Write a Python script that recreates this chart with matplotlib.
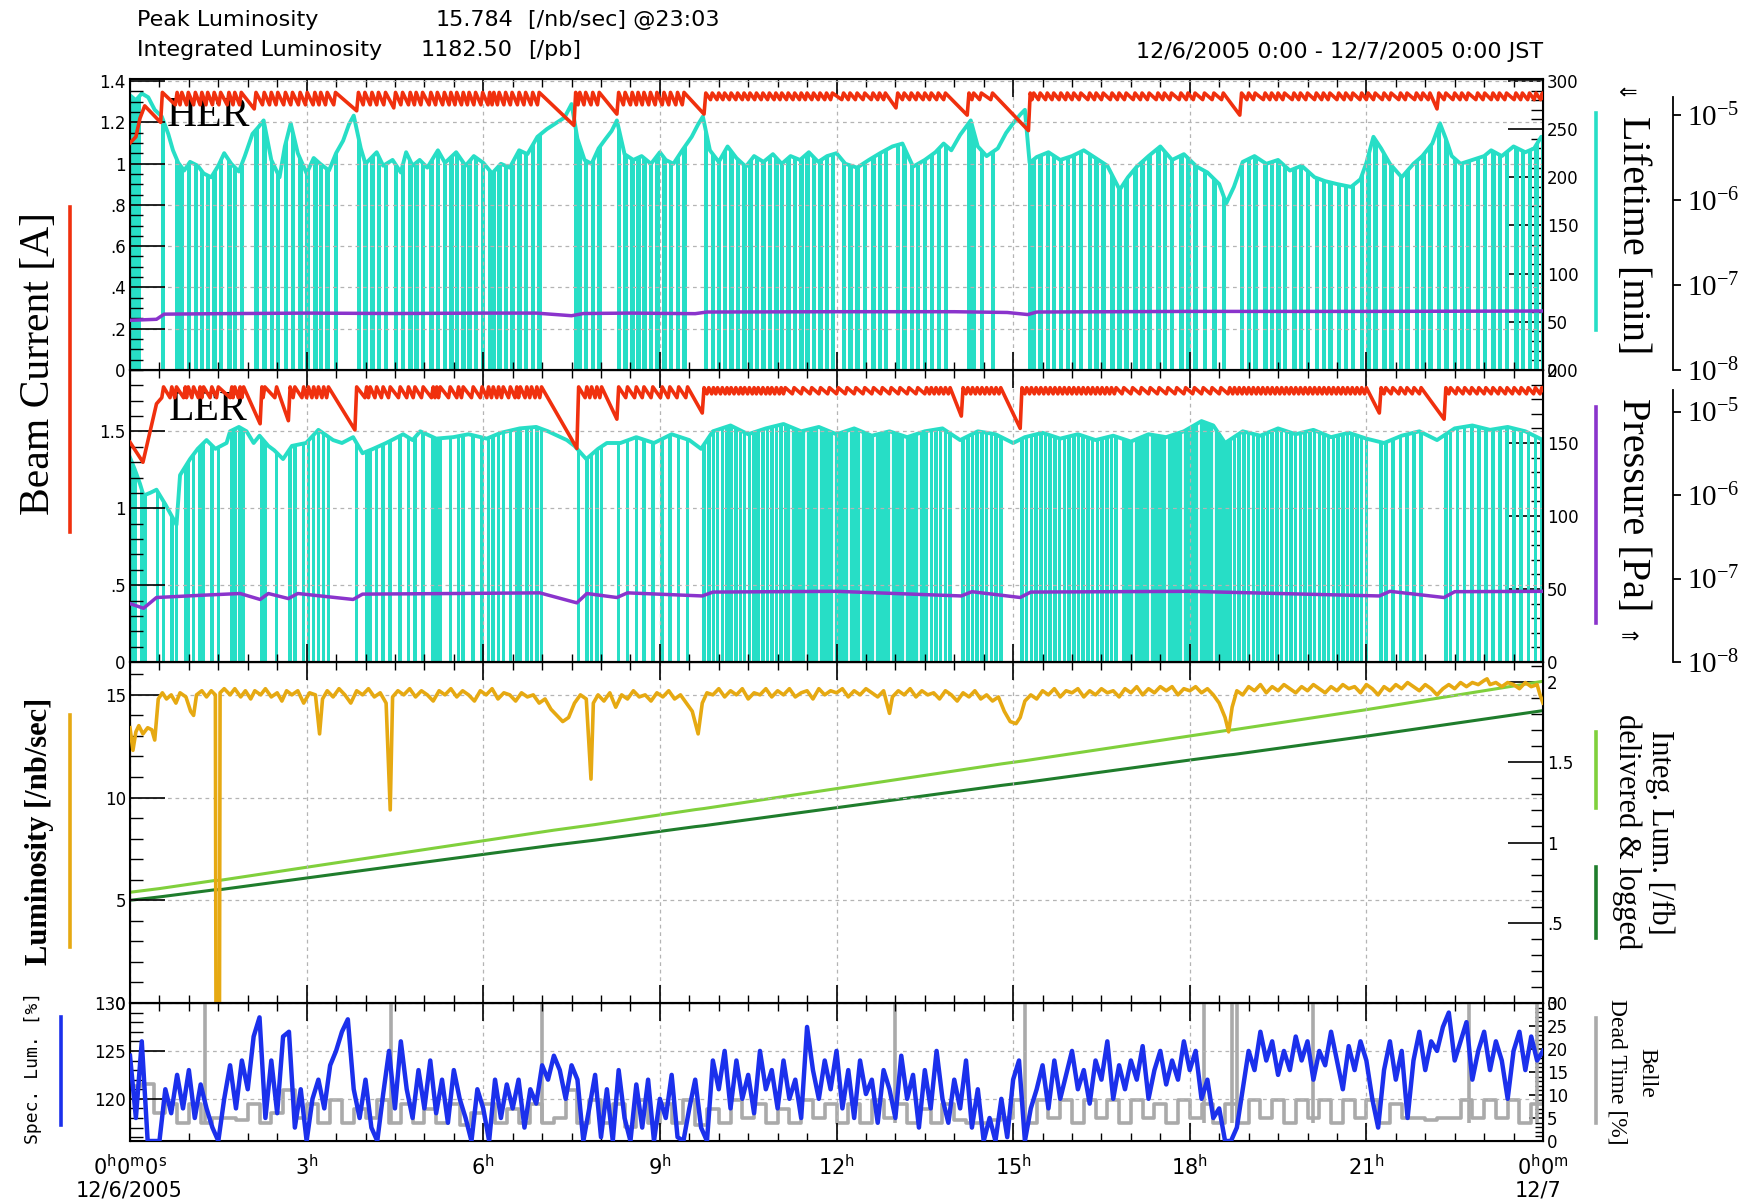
import numpy as np
import matplotlib
matplotlib.use("Agg")
import matplotlib.pyplot as plt
from matplotlib.lines import Line2D
from matplotlib.path import Path
from matplotlib.ticker import MultipleLocator, FixedLocator, FuncFormatter, NullLocator

plt.rcParams['font.family'] = ['DejaVu Sans']
SERIF = ['Liberation Serif', 'DejaVu Serif']

# ======================= DATA =======================
hour_ticks = [0, 3, 6, 9, 12, 15, 18, 21, 24]
hour_labels = [r'$\mathdefault{0^{h}0^{m}0^{s}}$', r'$\mathdefault{3^{h}}$', r'$\mathdefault{6^{h}}$',
               r'$\mathdefault{9^{h}}$', r'$\mathdefault{12^{h}}$', r'$\mathdefault{15^{h}}$',
               r'$\mathdefault{18^{h}}$', r'$\mathdefault{21^{h}}$', r'$\mathdefault{0^{h}0^{m}}$']

# ---- HER ----
her_inj = [0.52, 0.77, 0.85, 0.96, 1.08, 1.19, 1.29, 1.40, 1.51, 1.65, 1.75, 1.86, 2.11, 2.25, 2.37, 2.48, 2.61, 2.73, 2.86, 2.98,
           3.11, 3.21, 3.32, 3.46, 3.85, 3.96, 4.08, 4.19, 4.31, 4.48, 4.60, 4.73, 4.83, 4.94, 5.08, 5.19, 5.31, 5.42, 5.52, 5.63,
           5.73, 5.84, 5.96, 6.08, 6.15, 6.24, 6.35, 6.46, 6.58, 6.69, 6.81, 6.92, 7.54, 7.61, 7.71, 7.83, 7.94, 8.27, 8.38, 8.50,
           8.60, 8.70, 8.81, 8.92, 9.04, 9.15, 9.27, 9.38, 9.75, 9.86, 9.97, 10.07, 10.18, 10.29, 10.40, 10.50, 10.61, 10.72, 10.83, 10.94,
           11.04, 11.15, 11.26, 11.37, 11.47, 11.58, 11.69, 11.80, 11.90, 12.09, 12.20, 12.32, 12.45, 12.59, 12.70, 12.80, 13.01, 13.12, 13.24, 13.35,
           13.47, 13.58, 13.70, 13.82, 14.22, 14.30, 14.43, 14.62, 15.26, 15.32, 15.43, 15.55, 15.66, 15.78, 15.89, 16.00, 16.12, 16.27, 16.38, 16.50,
           16.65, 16.77, 16.89, 17.04, 17.16, 17.28, 17.43, 17.54, 17.66, 17.82, 17.94, 18.06, 18.22, 18.38, 18.54, 18.85, 18.97, 19.08, 19.25, 19.36,
           19.47, 19.58, 19.74, 19.85, 19.97, 20.12, 20.24, 20.35, 20.50, 20.62, 20.74, 20.89, 21.00, 21.12, 21.27, 21.39, 21.55, 21.66, 21.82, 21.93,
           22.05, 22.20, 22.32, 22.47, 22.59, 22.70, 22.86, 22.98, 23.12, 23.23, 23.35, 23.51, 23.62, 23.74, 23.85, 23.96]
her_solid_a = [0.0]
her_solid_b = [0.19]
her_env_t = [0.00, 0.10, 0.20, 0.31, 0.42, 0.54, 0.65, 0.73, 0.82, 0.92,
             1.02, 1.15, 1.25, 1.38, 1.50, 1.60, 1.72, 1.85, 1.95, 2.08,
             2.18, 2.27, 2.40, 2.54, 2.63, 2.73, 2.85, 3.00, 3.12, 3.23,
             3.38, 3.50, 3.62, 3.72, 3.80, 3.92, 4.00, 4.19, 4.30, 4.46,
             4.60, 4.69, 4.80, 4.92, 5.05, 5.23, 5.35, 5.54, 5.70, 5.84,
             6.00, 6.15, 6.30, 6.45, 6.61, 6.75, 6.92, 7.08, 7.23, 7.38,
             7.50, 7.60, 7.72, 7.84, 7.96, 8.08, 8.18, 8.27, 8.40, 8.55,
             8.69, 8.85, 9.00, 9.10, 9.23, 9.38, 9.54, 9.65, 9.73, 9.85,
             10.00, 10.15, 10.30, 10.46, 10.60, 10.76, 10.92, 11.07, 11.22, 11.38,
             11.53, 11.69, 11.84, 12.00, 12.15, 12.35, 12.55, 12.74, 12.95, 13.12,
             13.30, 13.50, 13.68, 13.82, 13.95, 14.10, 14.28, 14.40, 14.55, 14.74,
             14.88, 15.00, 15.12, 15.20, 15.28, 15.40, 15.60, 15.80, 16.00, 16.20,
             16.40, 16.60, 16.81, 16.95, 17.10, 17.30, 17.50, 17.70, 17.90, 18.12,
             18.30, 18.50, 18.62, 18.75, 18.90, 19.10, 19.30, 19.50, 19.70, 19.90,
             20.12, 20.30, 20.50, 20.74, 20.90, 21.00, 21.12, 21.25, 21.40, 21.60,
             21.80, 21.95, 22.12, 22.25, 22.35, 22.45, 22.60, 22.80, 23.00, 23.12,
             23.30, 23.50, 23.70, 23.85, 23.97, 24.00]
her_env_v = [285, 280, 287, 283, 270, 263, 245, 228, 215, 207,
             216, 212, 204, 200, 212, 225, 214, 206, 222, 245,
             252, 259, 218, 200, 232, 256, 225, 204, 220, 214,
             207, 225, 238, 255, 264, 230, 214, 226, 212, 218,
             205, 226, 212, 218, 210, 228, 215, 226, 212, 222,
             215, 204, 214, 210, 228, 224, 242, 250, 256, 262,
             276, 240, 218, 214, 230, 240, 248, 259, 224, 218,
             222, 214, 226, 218, 214, 228, 242, 255, 263, 228,
             216, 232, 220, 211, 222, 216, 224, 214, 222, 218,
             226, 216, 222, 225, 214, 210, 218, 225, 232, 235,
             211, 218, 226, 235, 228, 244, 259, 232, 222, 230,
             246, 256, 265, 270, 215, 221, 226, 218, 222, 228,
             220, 212, 187, 200, 211, 222, 232, 218, 224, 211,
             205, 193, 173, 190, 216, 222, 214, 218, 207, 212,
             200, 196, 193, 190, 198, 215, 242, 230, 214, 200,
             214, 222, 235, 256, 240, 222, 214, 218, 222, 228,
             222, 232, 226, 230, 242, 238]
her_start_t = [0.0, 0.10, 0.17, 0.25]
her_start_v = [1.10, 1.13, 1.22, 1.28]
her_seg_end = [9.7, 24.01]
her_seg_hi = [1.345, 1.342]
her_seg_lo = [1.285, 1.31]
her_dip_t = [0.52, 2.11, 3.85, 4.48, 7.54, 8.27, 9.75, 13.01, 14.22, 15.26, 18.85, 22.20]
her_dip_v = [1.20, 1.265, 1.256, 1.27, 1.185, 1.24, 1.24, 1.27, 1.235, 1.16, 1.235, 1.265]
her_end_v = 1.32
her_p_t = [0, 0.45, 0.58, 1.5, 3, 4.5, 6, 6.9, 7.5, 7.7, 8.5, 9.6, 9.8, 12, 14, 14.9, 15.25, 15.4, 18, 21, 24]
her_p = [3.84e-8, 3.95e-8, 4.54e-8, 4.60e-8, 4.67e-8, 4.62e-8, 4.67e-8, 4.67e-8, 4.35e-8, 4.62e-8, 4.67e-8,
         4.60e-8, 4.81e-8, 4.85e-8, 4.85e-8, 4.75e-8, 4.49e-8, 4.81e-8, 4.89e-8, 4.89e-8, 4.94e-8]

# ---- LER ----
ler_inj = [0.17, 0.23, 0.44, 0.54, 0.68, 0.76, 0.91, 0.96, 1.05, 1.16, 1.22, 1.36, 1.47, 1.70, 1.75, 1.84, 1.90, 2.21, 2.26, 2.46,
           2.69, 2.77, 2.92, 3.00, 3.09, 3.17, 3.26, 3.34, 3.82, 3.99, 4.05, 4.16, 4.27, 4.39, 4.56, 4.70, 4.81, 4.95, 5.12, 5.18,
           5.24, 5.41, 5.55, 5.63, 5.80, 5.95, 6.06, 6.14, 6.23, 6.31, 6.43, 6.54, 6.60, 6.71, 6.79, 6.88, 6.96, 7.59, 7.73, 7.81,
           7.90, 7.98, 8.27, 8.42, 8.57, 8.70, 8.85, 9.01, 9.14, 9.29, 9.44,
           9.72, 9.80, 9.88, 9.95, 10.03, 10.11, 10.18, 10.26, 10.34, 10.41, 10.49, 10.57, 10.64, 10.72, 10.80, 10.87, 10.95, 11.03,
           11.10, 11.25, 11.40, 11.55, 11.70, 11.85, 12.00, 12.15, 12.30, 12.45, 12.60, 12.75, 12.90, 13.05, 13.20, 13.35, 13.50,
           13.58, 13.66, 13.74, 13.82, 13.90, 14.12, 14.20, 14.28, 14.36, 14.44, 14.52, 14.60, 14.68, 14.76,
           15.12, 15.20, 15.28, 15.36, 15.44, 15.52, 15.60, 15.68, 15.76, 15.84, 15.92, 16.00, 16.08, 16.16, 16.24, 16.32, 16.40,
           16.48, 16.56, 16.64, 16.72, 16.85, 17.00, 17.15, 17.30, 17.45, 17.60, 17.75, 17.90, 18.05, 18.20, 18.35, 18.50, 18.65,
           18.73, 18.81, 18.89, 18.97, 19.05, 19.13, 19.21, 19.29, 19.37, 19.45, 19.53, 19.61, 19.69, 19.77, 19.85, 19.93, 20.01,
           20.09, 20.17, 20.25, 20.33, 20.41, 20.49, 20.57, 20.65, 20.73, 20.81, 20.89, 20.97, 21.22, 21.30, 21.42, 21.55, 21.66,
           21.78, 21.90, 22.32, 22.40, 22.52, 22.64, 22.76, 22.88, 23.00, 23.12, 23.24, 23.36, 23.48, 23.60, 23.72, 23.84, 23.95]
ler_solid_a = [0.0, 11.10, 16.90]
ler_solid_b = [0.12, 13.50, 18.65]
ler_gap = [11.22, 11.48, 11.71, 11.95, 12.22, 12.41, 12.66, 12.93, 13.17, 13.40,
           17.05, 17.33, 17.62, 17.88, 18.16, 18.42]
ler_env_t = [0.00, 0.08, 0.17, 0.23, 0.35, 0.45, 0.60, 0.79, 0.85, 1.02,
             1.15, 1.30, 1.45, 1.64, 1.70, 1.85, 1.98, 2.10, 2.20, 2.35,
             2.45, 2.60, 2.75, 2.99, 3.20, 3.45, 3.60, 3.79, 3.95, 4.13,
             4.35, 4.64, 4.80, 4.93, 5.20, 5.49, 5.75, 6.06, 6.30, 6.62,
             6.90, 7.10, 7.42, 7.55, 7.75, 7.95, 8.10, 8.33, 8.60, 8.90,
             9.20, 9.50, 9.70, 9.90, 10.20, 10.50, 10.80, 11.10, 11.40, 11.70,
             12.00, 12.30, 12.60, 12.90, 13.20, 13.50, 13.80, 14.10, 14.40, 14.70,
             15.00, 15.20, 15.50, 15.80, 16.10, 16.40, 16.70, 17.00, 17.30, 17.60,
             17.90, 18.20, 18.40, 18.60, 18.90, 19.20, 19.50, 19.80, 20.10, 20.40,
             20.70, 21.00, 21.30, 21.60, 21.90, 22.20, 22.50, 22.80, 23.10, 23.40,
             23.70, 24.00]
ler_env_v = [140, 132, 122, 114, 116, 118, 108, 94, 128, 139,
             146, 152, 146, 150, 158, 161, 158, 150, 155, 148,
             145, 139, 148, 150, 159, 152, 150, 154, 143, 146,
             150, 156, 152, 158, 153, 154, 156, 153, 157, 160,
             161, 158, 152, 148, 139, 146, 150, 150, 154, 150,
             156, 152, 146, 158, 162, 156, 160, 163, 158, 161,
             156, 160, 155, 158, 154, 158, 160, 152, 158, 156,
             150, 154, 157, 153, 156, 152, 155, 151, 156, 154,
             158, 165, 162, 150, 158, 155, 160, 156, 159, 154,
             157, 153, 150, 155, 158, 152, 160, 162, 159, 161,
             158, 152]
ler_start_t = [0.0, 0.22, 0.45]
ler_start_v = [1.43, 1.30, 1.68]
ler_seg_end = [9.7, 24.01]
ler_seg_hi = [1.79, 1.785]
ler_seg_lo = [1.72, 1.745]
ler_dip_t = [2.21, 2.69, 3.82, 7.59, 8.27, 9.72, 14.12, 15.12, 21.22, 22.32]
ler_dip_v = [1.55, 1.57, 1.51, 1.39, 1.58, 1.62, 1.60, 1.52, 1.62, 1.58]
ler_end_v = 1.77
ler_p_t = [0, 0.23, 0.45, 1.24, 1.87, 2.21, 2.35, 2.69, 2.85, 3.79, 3.95, 5.5, 6.96, 7.59, 7.76,
           8.27, 8.45, 9.72, 9.9, 12, 14.12, 14.3, 15.12, 15.3, 18, 21.22, 21.4, 22.32, 22.5, 24]
ler_p = [5.00e-8, 4.40e-8, 5.92e-8, 6.31e-8, 6.61e-8, 5.61e-8, 6.61e-8, 5.75e-8, 6.61e-8, 5.61e-8,
         6.50e-8, 6.61e-8, 6.73e-8, 5.11e-8, 6.61e-8, 5.92e-8, 6.73e-8, 6.18e-8, 6.88e-8, 7.02e-8,
         6.18e-8, 6.95e-8, 5.92e-8, 6.88e-8, 7.02e-8, 6.18e-8, 7.02e-8, 5.92e-8, 6.95e-8, 7.02e-8]

# ---- Luminosity [/nb/sec] ----
lum_t = [0.00, 0.05, 0.10, 0.15, 0.22, 0.30, 0.37, 0.42, 0.48, 0.55,
         0.62, 0.70, 0.78, 0.85, 0.95, 1.03, 1.08, 1.13, 1.22, 1.30,
         1.38, 1.45, 1.46, 1.52, 1.53, 1.60, 1.70, 1.78, 1.88, 1.96,
         2.05, 2.12, 2.22, 2.30, 2.40, 2.50, 2.58, 2.66, 2.75, 2.85,
         2.95, 3.05, 3.15, 3.22, 3.27, 3.35, 3.45, 3.55, 3.65, 3.75,
         3.85, 3.95, 4.05, 4.15, 4.25, 4.35, 4.42, 4.46, 4.55, 4.65,
         4.75, 4.85, 4.95, 5.05, 5.15, 5.25, 5.35, 5.45, 5.55, 5.65,
         5.75, 5.85, 5.95, 6.05, 6.15, 6.25, 6.35, 6.45, 6.55, 6.65,
         6.75, 6.85, 6.95, 7.05, 7.15, 7.25, 7.35, 7.45, 7.55, 7.65,
         7.75, 7.83, 7.87, 7.95, 8.05, 8.15, 8.25, 8.35, 8.45, 8.55,
         8.65, 8.75, 8.85, 8.95, 9.05, 9.15, 9.25, 9.35, 9.45, 9.55,
         9.65, 9.72, 9.80, 9.90, 10.0, 10.1, 10.2, 10.3, 10.4, 10.5,
         10.6, 10.7, 10.8, 10.9, 11.0, 11.1, 11.2, 11.3, 11.4, 11.5,
         11.6, 11.7, 11.8, 11.9, 12.0, 12.1, 12.2, 12.3, 12.4, 12.5,
         12.6, 12.7, 12.8, 12.9, 12.95, 13.05, 13.15, 13.25, 13.35, 13.45,
         13.55, 13.65, 13.75, 13.85, 13.95, 14.05, 14.15, 14.25, 14.35, 14.45,
         14.55, 14.65, 14.75, 14.85, 14.95, 15.05, 15.12, 15.20, 15.30, 15.40,
         15.5, 15.6, 15.7, 15.8, 15.9, 16.0, 16.1, 16.2, 16.3, 16.4,
         16.5, 16.6, 16.7, 16.8, 16.9, 17.0, 17.1, 17.2, 17.3, 17.4,
         17.5, 17.6, 17.7, 17.8, 17.9, 18.0, 18.1, 18.2, 18.3, 18.4,
         18.5, 18.6, 18.66, 18.72, 18.8, 18.9, 19.0, 19.1, 19.2, 19.3,
         19.4, 19.5, 19.6, 19.7, 19.8, 19.9, 20.0, 20.1, 20.2, 20.3,
         20.4, 20.5, 20.6, 20.7, 20.8, 20.9, 21.0, 21.1, 21.2, 21.3,
         21.4, 21.5, 21.6, 21.7, 21.8, 21.9, 22.0, 22.1, 22.2, 22.3,
         22.4, 22.5, 22.6, 22.7, 22.8, 22.9, 23.0, 23.05, 23.1, 23.2,
         23.3, 23.4, 23.5, 23.6, 23.7, 23.8, 23.9, 23.95, 24.0]
lum_v = [13.4, 12.3, 13.2, 13.5, 13.1, 13.4, 13.3, 12.8, 14.8, 15.1,
         14.8, 15.0, 14.6, 15.1, 14.9, 14.2, 14.0, 15.0, 15.2, 14.9,
         15.2, 15.0, 0.0, 0.0, 15.1, 15.3, 15.0, 15.3, 14.9, 15.2,
         14.8, 15.2, 15.0, 15.3, 14.9, 15.1, 14.7, 15.2, 15.0, 15.2,
         14.6, 15.1, 15.0, 13.1, 14.8, 15.2, 14.9, 15.3, 15.0, 14.6,
         15.2, 15.0, 15.3, 14.9, 15.1, 14.6, 9.4, 14.9, 15.2, 15.0,
         15.3, 14.9, 15.2, 15.0, 14.7, 15.2, 15.0, 15.3, 14.9, 15.2,
         15.0, 14.7, 15.2, 15.0, 15.3, 14.8, 15.1, 15.0, 14.7, 15.1,
         14.9, 15.0, 14.6, 14.8, 14.3, 14.0, 13.7, 13.9, 14.6, 15.0,
         14.8, 10.9, 14.6, 15.0, 14.7, 15.1, 14.4, 15.0, 14.8, 15.2,
         14.9, 15.0, 14.7, 15.1, 14.9, 15.2, 14.8, 15.0, 14.6, 14.2,
         13.1, 14.6, 15.1, 15.0, 15.3, 14.9, 15.2, 15.0, 15.3, 14.8,
         15.1, 15.0, 15.3, 14.9, 15.2, 15.0, 15.3, 14.9, 15.1, 15.2,
         14.8, 15.3, 15.0, 15.2, 15.1, 15.3, 14.9, 15.2, 15.0, 15.3,
         15.1, 14.9, 15.2, 14.1, 14.9, 15.2, 15.0, 15.3, 14.9, 15.2,
         15.0, 15.1, 14.8, 15.2, 15.0, 14.7, 15.1, 14.9, 15.2, 14.8,
         15.0, 14.7, 14.9, 14.2, 13.7, 13.6, 13.9, 14.7, 15.0, 14.8,
         15.2, 15.0, 15.3, 14.9, 15.2, 15.1, 15.3, 14.9, 15.2, 15.0,
         15.3, 15.1, 15.2, 14.9, 15.3, 15.1, 15.4, 15.0, 15.3, 15.1,
         15.4, 15.2, 15.4, 15.0, 15.3, 15.2, 15.4, 15.1, 15.3, 15.0,
         14.6, 13.9, 13.2, 14.4, 15.2, 15.0, 15.4, 15.2, 15.5, 15.1,
         15.4, 15.2, 15.5, 15.3, 15.1, 15.4, 15.2, 15.5, 15.3, 15.1,
         15.4, 15.2, 15.5, 15.3, 15.4, 15.1, 15.5, 15.3, 15.0, 15.4,
         15.2, 15.5, 15.3, 15.6, 15.4, 15.2, 15.5, 15.3, 15.0, 15.3,
         15.5, 15.3, 15.6, 15.4, 15.6, 15.5, 15.7, 15.78, 15.5, 15.6,
         15.4, 15.6, 15.5, 15.3, 15.6, 15.4, 15.5, 15.0, 14.6]

# ---- Integrated luminosity [/fb] ----
integ_t = [0, 0.5, 1.45, 1.52, 3, 4.4, 6, 7.2, 7.9, 9.6, 9.75, 12, 14.8, 15.2, 18, 18.6, 18.75, 21, 24]
delivered = [0.690, 0.713, 0.764, 0.764, 0.846, 0.923, 1.011, 1.077, 1.112, 1.205, 1.212, 1.336,
             1.490, 1.510, 1.664, 1.697, 1.703, 1.828, 2.005]
logged = [0.640, 0.661, 0.706, 0.706, 0.779, 0.848, 0.926, 0.984, 1.015, 1.099, 1.105, 1.217,
          1.356, 1.374, 1.514, 1.543, 1.549, 1.663, 1.822]

# ---- Specific luminosity [%], sampled every 0.1 h ----
spec_v = [124.5, 118, 126, 115.6, 115.6, 115.6, 121, 118.5, 122.5, 119,
          123, 118, 121.5, 119, 117, 115.6, 120, 123.5, 119, 124,
          121, 126.5, 128.5, 118, 124, 118.5, 126.5, 127, 117, 121,
          115.6, 120, 122, 119, 123.5, 125, 127, 128.3, 121, 118,
          122, 117, 115.6, 120.5, 125, 119, 126, 121, 118, 123,
          119, 124, 118.5, 122, 117.5, 123, 120, 118, 115.6, 121,
          119, 115.6, 122, 118, 121.5, 119, 122, 117, 121, 119.5,
          123.5, 122, 124.5, 123, 120, 123.5, 122, 115.6, 119, 122.5,
          116, 121, 115.6, 123, 118, 115.6, 121.5, 117, 122, 115.6,
          120, 118, 122.5, 116, 115.6, 119, 122, 117, 115.6, 124,
          121, 125, 119, 124, 120, 122.5, 118.5, 125, 121, 123,
          119, 124, 120, 122, 118, 127.5, 123, 120, 124, 121,
          125, 119, 123, 118, 124, 120.5, 122, 117.5, 123, 121,
          118, 124.5, 120, 122.5, 117, 123, 119, 125, 120, 117.5,
          122, 119, 124, 117, 121, 115.6, 118, 115.6, 120, 116,
          122, 124, 115.6, 119, 121, 123.5, 119, 124, 120, 122.5,
          125, 121, 123, 119.5, 124, 122, 126, 120, 123.5, 121,
          124, 122, 125.5, 120, 123, 125, 121.5, 124, 122, 126,
          123, 125, 120, 122, 118, 119, 115.6, 115.6, 117, 121,
          125, 123, 127, 124, 126, 122.5, 125, 123, 126.5, 124,
          126, 122, 125, 123.5, 127, 124, 121, 125.5, 123, 126,
          124, 120, 117, 123, 126, 122, 125, 118, 124, 127,
          123, 126, 125, 127.5, 129, 124, 126, 128, 122, 125,
          127, 123, 126, 124, 120, 125, 127, 123, 126.5, 124,
          125]
spec_step_h = 0.1

# ---- Belle dead time [%], sampled every 0.2 h ----
dead_v = [12, 12.5, 6, 8, 4,   8, 4, 5, 5, 4.5,   8, 4, 6, 11, 5,   8, 4, 9, 4, 7,
          5, 9, 4, 8, 4,   7, 4, 8, 3.5, 6,   8, 4, 7, 4, 8,   4, 5, 11, 4, 9,
          4, 8, 3, 9, 4,   8, 4, 9, 3.5, 7,   4, 9, 5, 8, 4,   7, 4, 9, 5, 8,
          4, 8, 4, 9, 5,   8, 4, 7, 4, 8,   4.5, 4, 4, 4.5, 5,   9, 4, 9, 5, 9,
          4, 9, 5, 9, 4,   9, 5, 8, 4, 9,   5, 8, 4, 8, 4,   9, 5, 9, 4, 9,
          5, 9, 4, 9, 5,   9, 4, 8, 5, 5,   4.5, 5, 5, 9, 5,   9, 5, 9, 4, 8,
          8]
dead_step_h = 0.2
dead_spike_t = [1.27, 4.43, 7.0, 13.0, 15.2, 18.25, 18.72, 18.8, 20.1, 22.75, 23.9]

# ======================= STYLE =======================
RED = '#f0300e'
CYAN = '#27dec6'
PURPLE = '#8a34cc'
ORANGE = '#e6a912'
LGREEN = '#80d03c'
DGREEN = '#1f7d2c'
BLUE = '#1b30ec'
GRAY = '#aaaaaa'
GRID = dict(color='#b4b4b4', linestyle=(0, (3, 3)), linewidth=0.9)

W, H = 1746.0, 1204.0
L, R = 130.0, 1543.0
fig = plt.figure(figsize=(W / 100, H / 100), dpi=100)
fig.patch.set_facecolor('white')


def rect(top, bottom):
    return [L / W, 1 - bottom / H, (R - L) / W, (bottom - top) / H]


def fx(px):
    return px / W


def fy(py):
    return 1 - py / H


def strip0(v, pos=None):
    s = '%g' % round(v, 6)
    if s.startswith('0.'):
        s = s[1:]
    return s


def style_main(ax, ylim, major, minor, show_x=False):
    ax.set_xlim(0, 24)
    ax.set_ylim(*ylim)
    ax.xaxis.set_major_locator(FixedLocator(hour_ticks))
    ax.xaxis.set_minor_locator(MultipleLocator(0.5))
    ax.yaxis.set_major_locator(MultipleLocator(major))
    ax.yaxis.set_minor_locator(MultipleLocator(minor))
    ax.yaxis.set_major_formatter(FuncFormatter(strip0))
    ax.tick_params(axis='x', which='major', direction='in', length=13, width=1.2, top=True, bottom=True,
                   labelbottom=show_x, labelsize=15, pad=9)
    ax.tick_params(axis='x', which='minor', direction='in', length=6, width=1.0, top=True, bottom=True)
    ax.tick_params(axis='y', which='major', direction='in', length=25, width=1.2, labelsize=12, pad=3)
    ax.tick_params(axis='y', which='minor', direction='in', length=9, width=1.0)
    ax.grid(True, which='major', **GRID)
    ax.patch.set_visible(False)
    for s in ax.spines.values():
        s.set_linewidth(1.5)
    if show_x:
        ax.set_xticklabels(hour_labels)
    else:
        ax.set_xticklabels([])


def style_right(axr, ylim, major, minor, maj_len=25, min_len=9):
    axr.set_ylim(*ylim)
    axr.yaxis.set_major_locator(MultipleLocator(major))
    axr.yaxis.set_minor_locator(MultipleLocator(minor))
    axr.yaxis.set_major_formatter(FuncFormatter(strip0))
    axr.tick_params(axis='y', which='major', direction='in', length=maj_len, width=1.2, labelsize=12, pad=3)
    axr.tick_params(axis='y', which='minor', direction='in', length=min_len, width=1.0)


def style_log(axl, top_exp):
    axl.set_xlim(0, 24)
    axl.set_yscale('log')
    axl.set_ylim(1e-8, 10 ** top_exp)
    axl.patch.set_visible(False)
    for s in ['left', 'top', 'bottom']:
        axl.spines[s].set_visible(False)
    axl.spines['right'].set_position(('axes', (1673 - L) / (R - L)))
    axl.spines['right'].set_linewidth(1.3)
    axl.xaxis.set_visible(False)
    axl.yaxis.set_ticks_position('right')
    axl.yaxis.set_major_locator(FixedLocator([1e-8, 1e-7, 1e-6, 1e-5]))
    axl.yaxis.set_minor_locator(NullLocator())
    axl.yaxis.set_major_formatter(FuncFormatter(
        lambda v, p: r'$\mathdefault{10^{%d}}$' % int(round(np.log10(v)))))
    axl.tick_params(axis='y', which='major', direction='out', length=6, width=1.3, pad=4,
                    labelsize=21, labelfontfamily='Liberation Serif')


def sawtooth(start_t, start_v, inj, seg_end, seg_hi, seg_lo, dip_t, dip_v, end_v):
    xs, ys = list(start_t), list(start_v)
    for t in inj:
        if t <= start_t[-1]:
            continue
        k = int(np.searchsorted(seg_end, t))
        lo = seg_lo[k]
        for dt, dv in zip(dip_t, dip_v):
            if abs(dt - t) < 1e-6:
                lo = dv
        xs += [t, t + 0.03]
        ys += [lo, seg_hi[k]]
    xs.append(24.0)
    ys.append(end_v)
    return xs, ys


def lifetime(axr, env_t, env_v, inj, solid_a, solid_b, gaps, top, barw):
    verts = [(env_t[0], 0)] + list(zip(env_t, env_v)) + [(env_t[-1], 0), (env_t[0], 0)]
    clip = Path(verts, closed=True)
    bars = axr.bar(inj, [top] * len(inj), width=barw, align='edge', color=CYAN, linewidth=0, zorder=2)
    widths = [b - a for a, b in zip(solid_a, solid_b)]
    solid = axr.bar(solid_a, [top] * len(solid_a), width=widths, align='edge', color=CYAN, linewidth=0, zorder=2)
    for b in list(bars) + list(solid):
        b.set_clip_path(clip, axr.transData)
    if gaps:
        g = axr.vlines(gaps, 0, top, color='white', linewidth=1.3, zorder=2.5)
        g.set_clip_path(clip, axr.transData)
    axr.plot(env_t, env_v, color=CYAN, lw=2.8, zorder=3)


# ======================= HER panel =======================
ax_her = fig.add_axes(rect(79, 370))
axr_her = ax_her.twinx()
axl_her = fig.add_axes(rect(97, 370))
style_main(ax_her, (0, 1.41), 0.2, 0.05)
style_right(axr_her, (0, 302), 50, 10)
style_log(axl_her, -8 + 273 / 85.0)
lifetime(axr_her, her_env_t, her_env_v, her_inj, her_solid_a, her_solid_b, None, 400, 0.075)
hx, hy = sawtooth(her_start_t, her_start_v, her_inj, her_seg_end, her_seg_hi, her_seg_lo,
                  her_dip_t, her_dip_v, her_end_v)
ax_her.plot(hx, hy, color=RED, lw=2.6, zorder=3)
ax_her.text(0.63, 1.184, 'HER', fontsize=30, family=SERIF, va='baseline', ha='left', zorder=2.5)
axl_her.plot(her_p_t, her_p, color=PURPLE, lw=2.5)

# ======================= LER panel =======================
ax_ler = fig.add_axes(rect(370, 662))
axr_ler = ax_ler.twinx()
axl_ler = fig.add_axes(rect(390, 662))
style_main(ax_ler, (0, 1.9), 0.5, 0.1)
style_right(axr_ler, (0, 200), 50, 10)
style_log(axl_ler, -8 + 272 / 83.5)
lifetime(axr_ler, ler_env_t, ler_env_v, ler_inj, ler_solid_a, ler_solid_b, ler_gap, 300, 0.06)
lx, ly = sawtooth(ler_start_t, ler_start_v, ler_inj, ler_seg_end, ler_seg_hi, ler_seg_lo,
                  ler_dip_t, ler_dip_v, ler_end_v)
ax_ler.plot(lx, ly, color=RED, lw=2.6, zorder=3)
ax_ler.text(0.66, 1.575, 'LER', fontsize=30, family=SERIF, va='baseline', ha='left', zorder=2.5)
axl_ler.plot(ler_p_t, ler_p, color=PURPLE, lw=2.5)

# ======================= Luminosity panel =======================
ax_lum = fig.add_axes(rect(662, 1003))
axr_lum = ax_lum.twinx()
style_main(ax_lum, (0, 16.6), 5, 1)
style_right(axr_lum, (0, 2.125), 0.5, 0.1, maj_len=25, min_len=9)
axr_lum.plot(integ_t, delivered, color=LGREEN, lw=2.2)
axr_lum.plot(integ_t, logged, color=DGREEN, lw=2.2)
ax_lum.plot(lum_t, lum_v, color=ORANGE, lw=2.6, zorder=3)

# ======================= Spec. Lum. panel =======================
ax_sp = fig.add_axes(rect(1003, 1141))
axr_sp = ax_sp.twinx()
style_main(ax_sp, (115.6, 130), 5, 1, show_x=True)
style_right(axr_sp, (0, 30), 5, 1, maj_len=10, min_len=6)
dead_t = [i * dead_step_h for i in range(len(dead_v))]
axr_sp.plot(dead_t, dead_v, color=GRAY, lw=2.6, drawstyle='steps-post')
axr_sp.vlines(dead_spike_t, 4, 30, color=GRAY, lw=2.6)
spec_t = [i * spec_step_h for i in range(len(spec_v))]
ax_sp.plot(spec_t, spec_v, color=BLUE, lw=3.2, zorder=3)

for a, b in [(ax_her, axr_her), (ax_ler, axr_ler), (ax_lum, axr_lum), (ax_sp, axr_sp)]:
    b.set_zorder(1)
    a.set_zorder(2)
axl_her.set_zorder(3)
axl_ler.set_zorder(3)

# ======================= texts =======================
fig.text(fx(137), fy(20), 'Peak Luminosity', fontsize=16, va='center', ha='left')
fig.text(fx(513), fy(20), '15.784', fontsize=16, va='center', ha='right')
fig.text(fx(528), fy(20), '[/nb/sec] @23:03', fontsize=16, va='center', ha='left')
fig.text(fx(137), fy(50), 'Integrated Luminosity', fontsize=16, va='center', ha='left')
fig.text(fx(513), fy(50), '1182.50', fontsize=16, va='center', ha='right')
fig.text(fx(528), fy(50), '[/pb]', fontsize=16, va='center', ha='left')
fig.text(fx(1543), fy(52), '12/6/2005 0:00 - 12/7/2005 0:00 JST', fontsize=16, va='center', ha='right')

fig.text(fx(129), fy(1190), '12/6/2005', fontsize=15, va='center', ha='center')
fig.text(fx(1538), fy(1190), '12/7', fontsize=15, va='center', ha='center')

fig.text(fx(39), fy(363), 'Beam Current [A]', fontsize=30, family=SERIF, rotation=90, va='center', ha='center')
fig.text(fx(40), fy(831), 'Luminosity [/nb/sec]', fontsize=22, family=SERIF, fontweight='bold',
         rotation=90, va='center', ha='center')
fig.text(fx(33), fy(1068), 'Spec. Lum. [%]', fontsize=13, family='DejaVu Sans Mono', rotation=90,
         va='center', ha='center')

fig.text(fx(1628), fy(93), '\u21d0', fontsize=16, family=['DejaVu Sans'], va='center', ha='center')
fig.text(fx(1632), fy(235), 'Lifetime [min]', fontsize=29, family=SERIF, rotation=-90, va='center', ha='center')
fig.text(fx(1632), fy(505), 'Pressure [Pa]', fontsize=29, family=SERIF, rotation=-90, va='center', ha='center')
fig.text(fx(1630), fy(637), '\u21d2', fontsize=16, family=['DejaVu Sans'], va='center', ha='center')
fig.text(fx(1660), fy(832), 'Integ. Lum. [/fb]', fontsize=22, family=SERIF, rotation=-90, va='center', ha='center')
fig.text(fx(1627), fy(832), 'delivered & logged', fontsize=22, family=SERIF, rotation=-90, va='center', ha='center')
fig.text(fx(1647), fy(1073), 'Belle', fontsize=17, family=SERIF, rotation=-90, va='center', ha='center')
fig.text(fx(1617), fy(1072), 'Dead Time [%]', fontsize=17, family=SERIF, rotation=-90, va='center', ha='center')

# colour keys
for x, y0, y1, c in [(70, 207, 532, RED), (70, 715, 947, ORANGE), (61, 1017, 1125, BLUE),
                     (1596, 113, 330, CYAN), (1596, 407, 623, PURPLE), (1596, 732, 808, LGREEN),
                     (1596, 867, 938, DGREEN), (1596, 1018, 1123, GRAY)]:
    fig.add_artist(Line2D([fx(x), fx(x)], [fy(y0), fy(y1)], transform=fig.transFigure, color=c, lw=2.6))

fig.savefig('out.png', dpi=100, facecolor='white')
